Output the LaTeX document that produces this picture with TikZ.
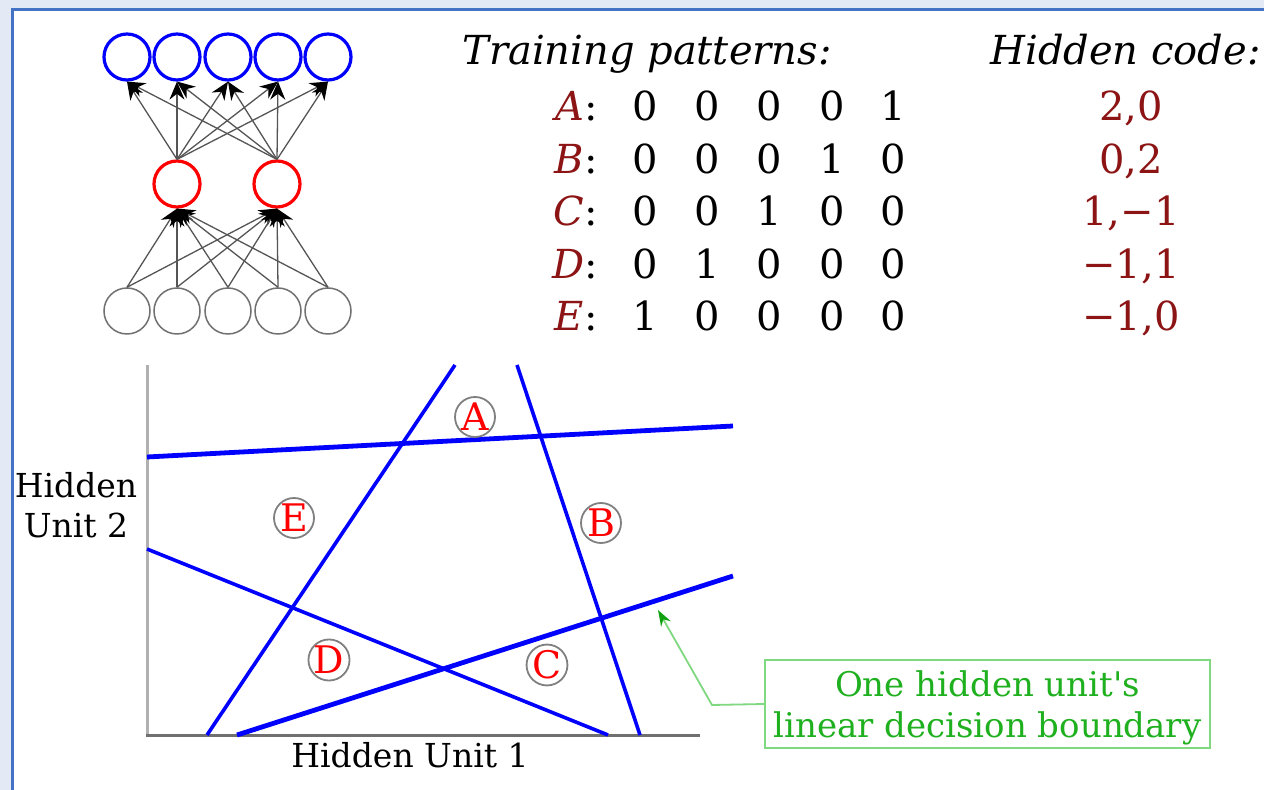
\documentclass[tikz,border=0pt]{standalone}
\usepackage{fontspec}
\setmainfont{DejaVu Serif}
\usetikzlibrary{arrows.meta}
\definecolor{bgout}{HTML}{E3E9F5}
\definecolor{frameblue}{HTML}{4472C4}
\definecolor{darkred}{HTML}{8C1414}
\definecolor{netgray}{HTML}{555555}
\definecolor{circgray}{HTML}{707070}
\definecolor{lgreen}{HTML}{80D880}
\definecolor{tgreen}{HTML}{1EB01E}
\definecolor{agreen}{HTML}{10A010}
\begin{document}
\begin{tikzpicture}[x=0.5pt,y=-0.5pt,
  outcirc/.style={circle,draw=blue,line width=1.6pt,minimum size=23pt,inner sep=0pt},
  hidcirc/.style={circle,draw=red,line width=1.6pt,minimum size=23pt,inner sep=0pt},
  incirc/.style={circle,draw=circgray,line width=0.75pt,minimum size=23pt,inner sep=0pt},
  net/.style={draw=netgray,line width=0.65pt,-{Stealth[length=9pt,width=7.5pt,color=black]}},
  tabtxt/.style={font=\fontsize{20}{24}\selectfont,inner sep=0pt,anchor=base},
  lbl/.style={font=\fontsize{16.5}{20}\selectfont,inner sep=0pt,anchor=base},
  region/.style={circle,draw=gray,line width=0.9pt,minimum size=20pt,inner sep=0pt,text=red,font=\fontsize{19}{20}\selectfont},
  bound/.style={draw=blue,line width=1.8pt},
  boundthick/.style={draw=blue,line width=2.4pt},
]
\useasboundingbox (0,0) rectangle (1264,790);
% background and frame
\fill[bgout] (0,0) rectangle (1264,790);
\fill[white] (12,9) rectangle (1264,790);
\draw[frameblue,line width=1.5pt] (12,790) -- (12,9.5) -- (1264,9.5);

% network
\foreach \i/\x in {1/127,2/177,3/228,4/278,5/328}{
  \node[incirc] (i\i) at (\x,311) {};
  \node[outcirc] (o\i) at (\x,57) {};
}
\node[hidcirc] (h1) at (177,184) {};
\node[hidcirc] (h2) at (277,184) {};
\foreach \i in {1,...,5}{
  \foreach \j in {1,2}{
    \draw[net] (i\i.north) -- (h\j.south);
    \draw[net] (h\j.north) -- (o\i.south);
  }
}

% table
\node[tabtxt,anchor=base west] (tp) at (462,65) {\itshape Training patterns:};
\node[tabtxt,anchor=base east] (hc) at (1261,65) {\itshape Hidden code:};
\foreach \r/\L/\a/\b/\c/\d/\e/\code/\y in {
  1/A/0/0/0/0/1/{2,0}/121,
  2/B/0/0/0/1/0/{0,2}/173.5,
  3/C/0/0/1/0/0/{1,−1}/226,
  4/D/0/1/0/0/0/{−1,1}/278.5,
  5/E/1/0/0/0/0/{−1,0}/331}{
  \node[tabtxt,anchor=base east] (L\r) at (598,\y) {{\itshape\color{darkred}\L}:};
  \node[tabtxt] (da\r) at (645,\y) {\a};
  \node[tabtxt] (db\r) at (707,\y) {\b};
  \node[tabtxt] (dc\r) at (769,\y) {\c};
  \node[tabtxt] (dd\r) at (832,\y) {\d};
  \node[tabtxt] (de\r) at (893,\y) {\e};
  \node[tabtxt,text=darkred] (code\r) at (1131,\y) {\code};
}

% axes
\draw[draw={rgb,255:red,176;green,176;blue,176},line width=1.5pt] (147,365) -- (147,736);
\draw[draw={rgb,255:red,112;green,112;blue,112},line width=1.5pt] (146,735) -- (700,735);
\node[lbl] (xlab) at (410,768) {Hidden Unit 1};
\node[lbl] (ylab1) at (76,498) {Hidden};
\node[lbl] (ylab2) at (76,538) {Unit 2};

% decision boundaries
\draw[boundthick] (147,457) -- (733,426);
\draw[bound] (147,549) -- (608,735);
\draw[bound] (207,735) -- (455,365);
\draw[bound] (517,365) -- (640,735);
\draw[boundthick] (237,735) -- (733,576);

% regions
\node[region] (rA) at (475,417) {A};
\node[region] (rE) at (294,518) {E};
\node[region] (rB) at (601,523) {B};
\node[region] (rD) at (329,660) {D};
\node[region] (rC) at (547,665) {C};

% callout
\node[draw=lgreen,line width=1pt,minimum width=222.5pt,minimum height=44pt,inner sep=0pt] (note) at (987.5,704) {};
\node[align=center,inner sep=0pt,text=tgreen,font=\fontsize{17}{20.5}\selectfont] (notetext) at (987.5,708)
  {One hidden unit\textquotesingle s\\linear decision boundary};
\coordinate (bend) at (712,705);
\coordinate (tip) at (658,610);
\draw[draw=lgreen,line width=0.9pt,-{Stealth[length=8pt,width=5.5pt,color=agreen]}]
  (note.west) -- (bend) -- (tip);
\end{tikzpicture}
\end{document}
